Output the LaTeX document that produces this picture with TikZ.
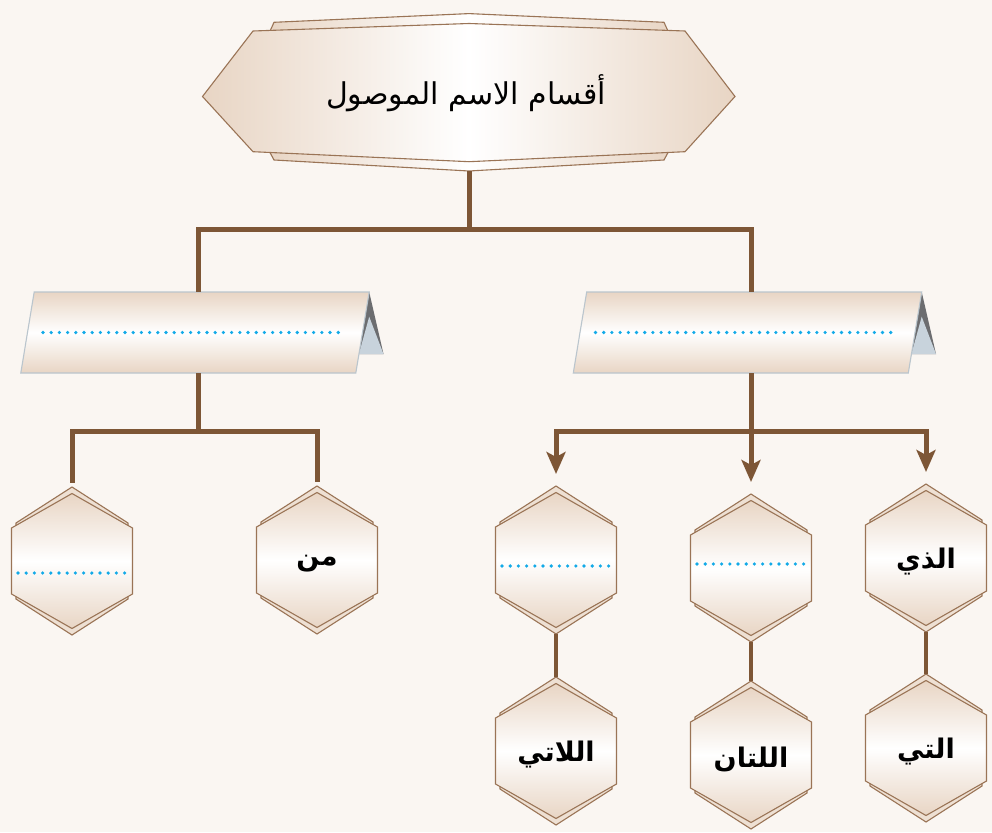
\documentclass[tikz,border=0pt]{standalone}
\usepackage{fontspec}
\newfontfamily\arabicfont[Script=Arabic]{DejaVu Sans}
\TeXXeTstate=1
\usepackage{xcolor}
\definecolor{PagePaper}{HTML}{FAF6F2}
\definecolor{StemBrown}{HTML}{7D5636}
\definecolor{EdgeBrown}{HTML}{9A7456}
\definecolor{CellTan}{HTML}{E8D5C4}
\definecolor{BackTan}{HTML}{EEE0D3}
\definecolor{BannerEdge}{HTML}{BAC5CD}
\definecolor{FoldDark}{HTML}{6C6D70}
\definecolor{FoldLight}{HTML}{C8D3DC}
\definecolor{DotCyan}{HTML}{12AAE8}
\usepackage{tikz}
\usetikzlibrary{arrows.meta,calc}
\tikzset{
  trunk/.style={draw=StemBrown,line width=5pt},
  trunkarrow/.style={trunk,-{Stealth[length=22pt,width=19pt,inset=5pt]},shorten >=12pt},
  stem/.style={draw=StemBrown,line width=4pt},
  cellback/.style={draw=EdgeBrown,line width=1.1pt,fill=BackTan},
  cellface/.style={draw=EdgeBrown,line width=1.1pt,top color=CellTan,bottom color=CellTan,middle color=white},
  celltext/.style={font=\arabicfont\bfseries\fontsize{27}{31}\selectfont,inner sep=0pt,execute at begin node=\beginR,execute at end node=\endR},
  titleback/.style={draw=EdgeBrown,line width=1.1pt,left color=CellTan,right color=CellTan,middle color=white},
  titleface/.style={draw=EdgeBrown,line width=1.1pt,left color=CellTan,right color=CellTan,middle color=white},
  titletext/.style={font=\arabicfont\fontsize{30}{34}\selectfont,inner sep=0pt,execute at begin node=\beginR,execute at end node=\endR},
  bannerface/.style={draw=BannerEdge,line width=1.1pt,top color=CellTan,bottom color=CellTan,middle color=white},
  dotrule/.style={draw=DotCyan,line width=3.6pt,line cap=round,dash pattern=on 0pt off 8.2pt},
  pics/banner/.style={code={
    \fill[FoldDark] (174.2,-40.5) -- (188.5,21.5) -- (163.9,21.5) -- cycle;
    \fill[FoldLight] (174.2,-15.8) -- (188.5,21.5) -- (163.9,21.5) -- cycle;
    \draw[bannerface] (-160.8,-40.5) -- (174.2,-40.5) -- (160.8,40.5) -- (-174.2,40.5) -- cycle;
    \draw[dotrule] (-152,0) -- (150,0);
    \coordinate (-top) at (3.5,-40.5);
    \coordinate (-bot) at (3.5,40.5);
  }},
  pics/hexcell/.style={code={
    \draw[cellback] (0,-74) -- (-56,-38) -- (-56,38) -- (0,74) -- (56,38) -- (56,-38) -- cycle;
    \draw[cellface] (0,-67.5) -- (-60.5,-33) -- (-60.5,33) -- (0,67.5) -- (60.5,33) -- (60.5,-33) -- cycle;
    \coordinate (-top) at (0,-74);
    \coordinate (-bot) at (0,74);
    \node[celltext] (-txt) at (0,4) {#1};
  }},
  pics/hexblank/.style={code={
    \draw[cellback] (0,-74) -- (-56,-38) -- (-56,38) -- (0,74) -- (56,38) -- (56,-38) -- cycle;
    \draw[cellface] (0,-67.5) -- (-60.5,-33) -- (-60.5,33) -- (0,67.5) -- (60.5,33) -- (60.5,-33) -- cycle;
    \draw[dotrule] (-54,#1) -- (54,#1);
    \coordinate (-top) at (0,-74);
    \coordinate (-bot) at (0,74);
  }}
}
\begin{document}
\begin{tikzpicture}[x=1pt,y=-1pt]
  \fill[PagePaper] (0,0) rectangle (992,832);
  \useasboundingbox (0,0) rectangle (992,832);
  % title plate
  \draw[titleback] (274,22.3) -- (469,13.6) -- (664,22.3) -- (672,40) -- (672,145) -- (664,160) -- (469,171) -- (274,160) -- (266,145) -- (266,40) -- cycle;
  \draw[titleface] (202.5,96.5) -- (253,31) -- (469,23.5) -- (685,31) -- (735,96.5) -- (685,151.7) -- (469,161.7) -- (253,151.7) -- cycle;
  \node[titletext] (title) at (466,93) {أقسام الاسم الموصول};
  \coordinate (title-bot) at (469,171);
  % banners
  \pic (common) at (195,332.5) {banner};
  \pic (special) at (747.5,332.5) {banner};
  % cells
  \pic (ma) at (72,561) {hexblank=12};
  \pic (man) at (317,560) {hexcell={من}};
  \pic (lladhina) at (556,560) {hexblank=6};
  \pic (lladhani) at (751,568) {hexblank=-4};
  \pic (dhi) at (926,558) {hexcell={الذي}};
  \pic (llati) at (556,751) {hexcell={اللاتي}};
  \pic (llatan) at (751,755) {hexcell={اللتان}};
  \pic (lati) at (926,748) {hexcell={التي}};
  % connectors
  \draw[trunk] (title-bot) -- ++(0,58) -| (common-top);
  \draw[trunk] (title-bot) ++(0,58) -| (special-top);
  \draw[trunk,shorten >=4pt] (common-bot) -- ++(0,58) -| (ma-top);
  \draw[trunk,shorten >=4pt] (common-bot) ++(0,58) -| (man-top);
  \draw[trunkarrow] (special-bot) -- ++(0,58) -| (lladhina-top);
  \draw[trunkarrow] (special-bot) ++(0,58) -| (dhi-top);
  \draw[trunkarrow] (special-bot) -- (lladhani-top);
  \draw[stem] (lladhina-bot) -- (llati-top);
  \draw[stem] (lladhani-bot) -- (llatan-top);
  \draw[stem] (dhi-bot) -- (lati-top);
\end{tikzpicture}
\end{document}
